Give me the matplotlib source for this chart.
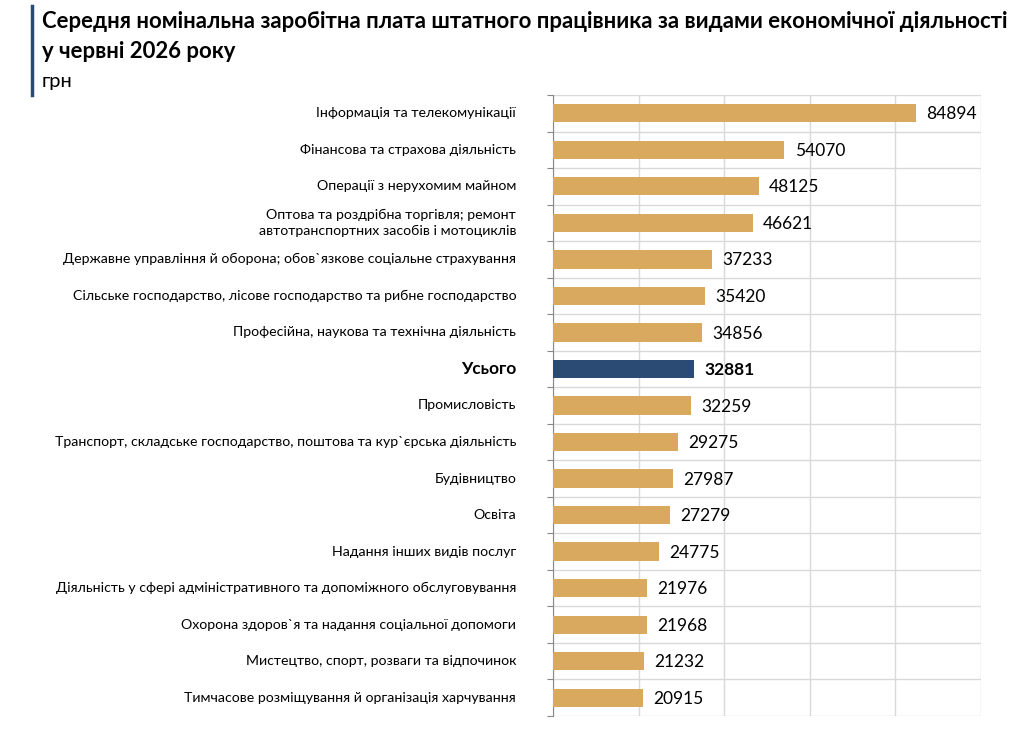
import matplotlib
matplotlib.use("Agg")
import matplotlib.pyplot as plt
import numpy as np

plt.rcParams['font.family'] = ['Lato', 'DejaVu Sans']

categories = [
    "Інформація та телекомунікації",
    "Фінансова та страхова діяльність",
    "Операції з нерухомим майном",
    "Оптова та роздрібна торгівля; ремонт\nавтотранспортних засобів і мотоциклів",
    "Державне управління й оборона; обов`язкове соціальне страхування",
    "Сільське господарство, лісове господарство та рибне господарство",
    "Професійна, наукова та технічна діяльність",
    "Усього",
    "Промисловість",
    "Транспорт, складське господарство, поштова та кур`єрська діяльність",
    "Будівництво",
    "Освіта",
    "Надання інших видів послуг",
    "Діяльність у сфері адміністративного та допоміжного обслуговування",
    "Охорона здоров`я та надання соціальної допомоги",
    "Мистецтво, спорт, розваги та відпочинок",
    "Тимчасове розміщування й організація харчування",
]
values = [84894, 54070, 48125, 46621, 37233, 35420, 34856, 32881, 32259,
          29275, 27987, 27279, 24775, 21976, 21968, 21232, 20915]
highlight = "Усього"

gold = "#D9A95F"
navy = "#2C4B74"

fig = plt.figure(figsize=(10.24, 7.43), dpi=100)
ax = fig.add_axes([553/1024, 1 - 716/743, (981-553)/1024, (716-95)/743])

n = len(categories)
y = np.arange(n)
colors = [navy if c == highlight else gold for c in categories]
ax.barh(y, values, height=0.5, color=colors, zorder=3)
ax.set_ylim(n - 0.5, -0.5)
ax.set_xlim(0, 100000)

# gridlines
ax.set_xticks(np.arange(0, 100001, 20000))
ax.set_xticklabels([])
ax.tick_params(axis='x', length=0)
ax.set_yticks(np.arange(-0.5, n, 1.0), minor=False)
ax.set_yticklabels([])
ax.tick_params(axis='y', length=4, width=0.8, color="#888888", direction='out')
ax.grid(True, color="#D9D9D9", linewidth=1.0, zorder=0)

for s in ['top', 'right', 'bottom']:
    ax.spines[s].set_visible(False)
ax.spines['left'].set_color("#888888")
ax.spines['left'].set_linewidth(0.8)

for i, (c, v) in enumerate(zip(categories, values)):
    bold = (c == highlight)
    ax.text(-8600, i, c, ha='right', va='center',
            fontsize=12.5 if bold else 10.2, fontweight='bold' if bold else 'normal',
            color='black', linespacing=1.45)
    ax.text(v + 2400, i + 0.03, f"{v}", ha='left', va='center',
            fontsize=12.5, fontweight='bold' if bold else 'normal', color='black')

# title
fig.text(42/1024, 1 - 22/743, "Середня номінальна заробітна плата штатного працівника за видами економічної діяльності",
         fontsize=15.9, fontweight='bold', ha='left', va='center')
fig.text(42/1024, 1 - 51/743, "у червні 2026 року",
         fontsize=15.9, fontweight='bold', ha='left', va='center')
fig.text(42/1024, 1 - 81/743, "грн", fontsize=14.5, ha='left', va='center')
fig.add_artist(plt.Line2D([32/1024, 32/1024], [1 - 6/743, 1 - 95/743],
                          color=navy, linewidth=2.5))

fig.savefig("out.png", dpi=100)
